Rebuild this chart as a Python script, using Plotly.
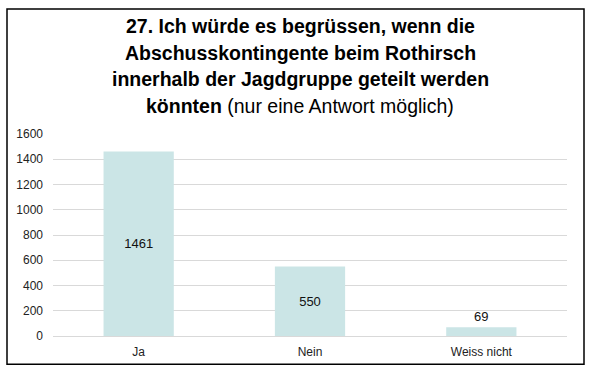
import plotly.graph_objects as go

categories = ["Ja", "Nein", "Weiss nicht"]
values = [1461, 550, 69]
label_positions = ["inside", "inside", "outside"]
y_ticks = [0, 200, 400, 600, 800, 1000, 1200, 1400, 1600]

title_lines = ["<b>27. Ich würde es begrüssen, wenn die</b>",
               "<b>Abschusskontingente beim Rothirsch</b>",
               "<b>innerhalb der Jagdgruppe geteilt werden</b>",
               "<b>könnten</b> (nur eine Antwort möglich)"]

W, H = 590, 371
L, R, T, B = 53, 23, 134, 30
pw, ph = W - L - R, H - T - B

def px_x(p):
    return (p - L) / pw

def px_y(p):
    return (H - B - p) / ph

fig = go.Figure()
fig.add_trace(go.Bar(
    x=categories, y=values,
    marker=dict(color="#cbe5e6", line=dict(width=0)),
    width=0.41,
    text=[str(v) for v in values],
    textposition=label_positions,
    insidetextanchor="middle",
    textfont=dict(family="Liberation Sans, Arial", size=13, color="#111111"),
    cliponaxis=False,
    hoverinfo="skip",
))

annotations = []
for i, line in enumerate(title_lines):
    annotations.append(dict(
        text=line, xref="paper", yref="paper",
        x=px_x(300), y=px_y(23.5 + 27.3 * i), xanchor="center", yanchor="middle",
        showarrow=False, align="center",
        font=dict(family="Liberation Sans, Arial", size=19.5, color="#000000"),
    ))

fig.update_layout(
    width=W, height=H,
    margin=dict(l=L, r=R, t=T, b=B),
    paper_bgcolor="white", plot_bgcolor="white",
    font=dict(family="Liberation Sans, Arial", size=12, color="#222222"),
    showlegend=False,
    bargap=0.59,
    yaxis=dict(range=[0, 1600], tickvals=y_ticks, showgrid=True,
               gridcolor="#d9d9d9", gridwidth=1, zeroline=True,
               zerolinecolor="#d9d9d9", zerolinewidth=1,
               ticks="", showline=False, ticklabelstandoff=9,
               tickfont=dict(size=12)),
    xaxis=dict(showgrid=False, ticks="", showline=False,
               ticklabelstandoff=7, tickfont=dict(size=12)),
    annotations=annotations,
    shapes=[dict(
        type="rect", xref="paper", yref="paper",
        x0=px_x(7), x1=px_x(584), y0=px_y(370), y1=px_y(6),
        line=dict(color="#000000", width=1.5), layer="below",
    )],
)

post = ("document.documentElement.style.margin='0';"
        "document.documentElement.style.overflow='hidden';"
        "document.body.style.margin='0';document.body.style.padding='0';"
        "document.body.style.overflow='hidden';"
        "document.body.style.height='371px';")
fig.write_html("out.html", post_script=post, config={"displayModeBar": False})
